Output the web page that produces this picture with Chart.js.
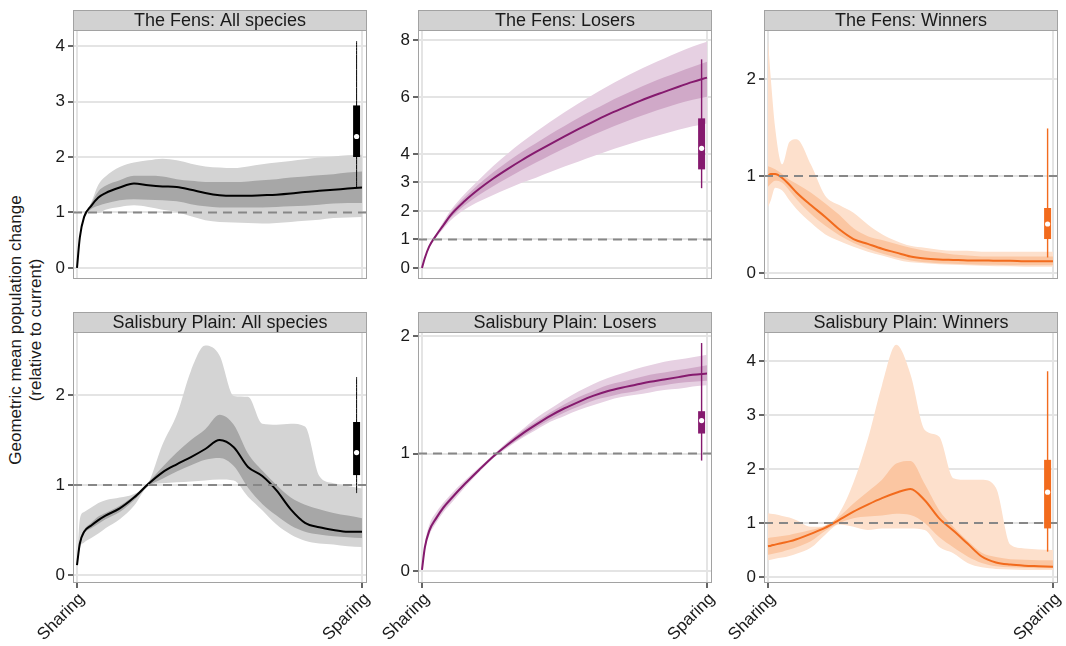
<!DOCTYPE html>
<html>
<head>
<meta charset="utf-8">
<script src="https://cdn.jsdelivr.net/npm/chart.js@4.4.1/dist/chart.umd.min.js"></script>
<style>
  body { margin: 0; background: #fff; }
  #wrap { position: relative; width: 1066px; height: 646px; overflow: hidden; }
  canvas { position: absolute; }
  #ytitle {
    position: absolute; left: -131px; top: 307px; width: 320px; height: 46px;
    line-height: 23px; text-align: center; transform: rotate(-90deg);
    font: 17px "Liberation Sans", Arial, sans-serif; color: #1a1a1a;
  }
</style>
</head>
<body>
<div id="wrap">
  <div id="ytitle">Geometric mean population change<br>(relative to current)</div>
  <canvas id="c0" width="343" height="273" style="left:28px;top:10px"></canvas>
  <canvas id="c1" width="343" height="273" style="left:373px;top:10px"></canvas>
  <canvas id="c2" width="343" height="273" style="left:719px;top:10px"></canvas>
  <canvas id="c3" width="343" height="334" style="left:28px;top:312px"></canvas>
  <canvas id="c4" width="343" height="334" style="left:373px;top:312px"></canvas>
  <canvas id="c5" width="343" height="334" style="left:719px;top:312px"></canvas>
</div>
<script>
// Population change along the sharing -> sparing gradient

// position along the gradient (0 = sharing, 1 = sparing)
const xs = [0, 0.01, 0.025, 0.05, 0.075, 0.1, 0.15, 0.2, 0.25, 0.3, 0.35, 0.4,
  0.45, 0.5, 0.55, 0.6, 0.65, 0.7, 0.75, 0.8, 0.85, 0.9, 0.95, 1.0];
const xTicks = [0, 1];
const xLabels = ["Sharing", "Sparing"];
const boxX = 0.981;

// The Fens: All species
const fensAllMean = [0, 0.55, 0.92, 1.12, 1.27, 1.35, 1.45, 1.52, 1.49, 1.47, 1.46, 1.41, 1.35, 1.31, 1.3, 1.3, 1.31, 1.32, 1.34, 1.37, 1.39, 1.41, 1.43, 1.45];
const fensAllHi95 = [0, 0.55, 0.92, 1.18, 1.5, 1.65, 1.82, 1.9, 1.94, 1.97, 1.94, 1.88, 1.83, 1.81, 1.8, 1.83, 1.87, 1.9, 1.93, 1.96, 1.99, 2.01, 2.03, 2.04];
const fensAllLo95 = [0, 0.55, 0.9, 1.0, 0.99, 1.05, 1.1, 1.13, 1.1, 1.05, 1.01, 0.93, 0.86, 0.83, 0.82, 0.81, 0.8, 0.81, 0.83, 0.85, 0.87, 0.9, 0.91, 0.92];
const fensAllHi50 = [0, 0.55, 0.92, 1.16, 1.38, 1.48, 1.58, 1.66, 1.66, 1.65, 1.6, 1.57, 1.55, 1.55, 1.55, 1.56, 1.58, 1.6, 1.63, 1.65, 1.67, 1.69, 1.72, 1.74];
const fensAllLo50 = [0, 0.55, 0.9, 1.06, 1.12, 1.16, 1.22, 1.24, 1.23, 1.22, 1.2, 1.15, 1.11, 1.09, 1.09, 1.09, 1.09, 1.1, 1.11, 1.12, 1.14, 1.16, 1.17, 1.17];
const fensAllBox = [1.45, 2.0, 2.37, 2.93, 4.09]; // low whisker, q1, median, q3, high whisker

// The Fens: Losers
const fensLosMean = [0, 0.35, 0.75, 1.15, 1.5, 1.85, 2.35, 2.77, 3.14, 3.47, 3.78, 4.07, 4.35, 4.62, 4.88, 5.13, 5.37, 5.59, 5.8, 6.0, 6.18, 6.36, 6.53, 6.68];
const fensLosHi95 = [0, 0.36, 0.78, 1.22, 1.62, 2.02, 2.6, 3.1, 3.58, 4.01, 4.41, 4.78, 5.13, 5.46, 5.78, 6.08, 6.37, 6.64, 6.89, 7.13, 7.35, 7.57, 7.77, 7.94];
const fensLosLo95 = [0, 0.34, 0.72, 1.08, 1.38, 1.67, 2.05, 2.33, 2.56, 2.78, 2.99, 3.17, 3.37, 3.56, 3.74, 3.92, 4.1, 4.26, 4.42, 4.57, 4.71, 4.85, 4.97, 5.07];
const fensLosHi50 = [0, 0.35, 0.76, 1.19, 1.56, 1.94, 2.48, 2.95, 3.36, 3.73, 4.07, 4.38, 4.69, 4.98, 5.27, 5.54, 5.8, 6.04, 6.27, 6.49, 6.69, 6.88, 7.06, 7.24];
const fensLosLo50 = [0, 0.35, 0.74, 1.11, 1.43, 1.75, 2.2, 2.56, 2.87, 3.16, 3.44, 3.7, 3.96, 4.2, 4.44, 4.67, 4.88, 5.08, 5.27, 5.45, 5.61, 5.77, 5.9, 6.01];
const fensLosBox = [2.8, 3.46, 4.2, 5.25, 7.32];

// The Fens: Winners
const fensWinMean = [1.0, 1.02, 1.02, 0.98, 0.91, 0.83, 0.7, 0.58, 0.45, 0.35, 0.3, 0.25, 0.21, 0.17, 0.15, 0.14, 0.135, 0.13, 0.13, 0.125, 0.125, 0.12, 0.12, 0.12];
const fensWinHi95 = [2.4, 2.0, 1.5, 1.12, 1.35, 1.38, 1.12, 0.8, 0.7, 0.62, 0.5, 0.4, 0.33, 0.28, 0.26, 0.24, 0.23, 0.23, 0.22, 0.22, 0.22, 0.22, 0.22, 0.22];
const fensWinLo95 = [0.68, 0.75, 0.88, 0.85, 0.75, 0.66, 0.52, 0.4, 0.33, 0.27, 0.22, 0.18, 0.14, 0.11, 0.1, 0.09, 0.085, 0.08, 0.075, 0.07, 0.07, 0.065, 0.065, 0.065];
const fensWinHi50 = [1.1, 1.09, 1.07, 1.02, 0.96, 0.92, 0.83, 0.72, 0.6, 0.46, 0.38, 0.34, 0.3, 0.26, 0.23, 0.21, 0.19, 0.18, 0.17, 0.17, 0.17, 0.17, 0.17, 0.17];
const fensWinLo50 = [0.89, 0.92, 0.95, 0.93, 0.85, 0.76, 0.61, 0.49, 0.39, 0.31, 0.25, 0.2, 0.16, 0.13, 0.11, 0.1, 0.095, 0.09, 0.085, 0.085, 0.08, 0.08, 0.08, 0.08];
const fensWinBox = [0.16, 0.35, 0.505, 0.67, 1.49];

// Salisbury Plain: All species
const salAllMean = [0.11, 0.35, 0.48, 0.55, 0.61, 0.66, 0.74, 0.86, 1.01, 1.14, 1.23, 1.31, 1.4, 1.5, 1.42, 1.2, 1.1, 0.94, 0.73, 0.58, 0.53, 0.5, 0.48, 0.48];
const salAllHi95 = [0.11, 0.62, 0.7, 0.75, 0.8, 0.83, 0.86, 0.9, 1.02, 1.45, 1.78, 2.27, 2.55, 2.44, 1.99, 1.98, 1.68, 1.67, 1.68, 1.65, 1.1, 1.02, 0.99, 0.96];
const salAllLo95 = [0.11, 0.3, 0.36, 0.41, 0.46, 0.52, 0.62, 0.77, 0.99, 1.02, 1.03, 1.04, 1.05, 1.06, 1.05, 0.87, 0.72, 0.56, 0.45, 0.38, 0.35, 0.34, 0.32, 0.31];
const salAllHi50 = [0.11, 0.38, 0.5, 0.58, 0.65, 0.69, 0.77, 0.88, 1.03, 1.2, 1.36, 1.5, 1.62, 1.78, 1.67, 1.35, 1.16, 1.0, 0.86, 0.78, 0.73, 0.69, 0.66, 0.63];
const salAllLo50 = [0.11, 0.33, 0.46, 0.52, 0.57, 0.62, 0.7, 0.83, 0.99, 1.07, 1.15, 1.22, 1.28, 1.3, 1.21, 0.97, 0.79, 0.66, 0.55, 0.48, 0.45, 0.43, 0.42, 0.41];
const salAllBox = [0.91, 1.11, 1.36, 1.7, 2.2];

// Salisbury Plain: Losers
const salLosMean = [0.01, 0.2, 0.34, 0.45, 0.54, 0.61, 0.74, 0.86, 0.975, 1.075, 1.165, 1.245, 1.32, 1.385, 1.44, 1.49, 1.53, 1.56, 1.585, 1.61, 1.63, 1.65, 1.67, 1.68];
const salLosHi95 = [0.01, 0.23, 0.39, 0.5, 0.58, 0.65, 0.77, 0.88, 0.99, 1.1, 1.2, 1.3, 1.38, 1.46, 1.53, 1.59, 1.64, 1.68, 1.72, 1.75, 1.78, 1.8, 1.82, 1.84];
const salLosLo95 = [0.01, 0.17, 0.3, 0.41, 0.5, 0.57, 0.71, 0.84, 0.96, 1.05, 1.13, 1.2, 1.27, 1.32, 1.37, 1.41, 1.45, 1.48, 1.5, 1.52, 1.54, 1.55, 1.57, 1.58];
const salLosHi50 = [0.01, 0.21, 0.36, 0.47, 0.56, 0.63, 0.75, 0.87, 0.98, 1.09, 1.19, 1.27, 1.35, 1.42, 1.48, 1.53, 1.58, 1.61, 1.64, 1.67, 1.69, 1.71, 1.73, 1.75];
const salLosLo50 = [0.01, 0.19, 0.32, 0.43, 0.52, 0.59, 0.73, 0.85, 0.97, 1.06, 1.14, 1.22, 1.29, 1.35, 1.4, 1.45, 1.48, 1.51, 1.53, 1.56, 1.58, 1.6, 1.61, 1.62];
const salLosBox = [0.94, 1.17, 1.28, 1.36, 1.94];

// Salisbury Plain: Winners
const salWinMean = [0.57, 0.58, 0.6, 0.63, 0.66, 0.7, 0.8, 0.91, 1.06, 1.21, 1.34, 1.46, 1.56, 1.63, 1.42, 1.09, 0.86, 0.62, 0.38, 0.27, 0.23, 0.21, 0.2, 0.19];
const salWinHi95 = [1.18, 1.17, 1.16, 1.13, 1.1, 1.05, 0.93, 0.93, 1.18, 1.75, 2.55, 3.55, 4.3, 3.75, 2.72, 2.6, 1.83, 1.8, 1.8, 1.65, 0.6, 0.53, 0.51, 0.5];
const salWinLo95 = [0.31, 0.32, 0.34, 0.36, 0.39, 0.43, 0.54, 0.78, 0.97, 0.93, 0.87, 0.9, 0.9, 0.9, 0.87, 0.56, 0.44, 0.26, 0.18, 0.15, 0.14, 0.13, 0.13, 0.13];
const salWinHi50 = [0.72, 0.73, 0.74, 0.76, 0.78, 0.81, 0.87, 0.95, 1.12, 1.36, 1.58, 1.8, 2.1, 2.15, 1.72, 1.24, 0.93, 0.67, 0.45, 0.37, 0.33, 0.32, 0.31, 0.31];
const salWinLo50 = [0.41, 0.42, 0.44, 0.47, 0.51, 0.55, 0.66, 0.85, 1.0, 1.09, 1.12, 1.14, 1.17, 1.15, 1.0, 0.74, 0.55, 0.38, 0.26, 0.2, 0.18, 0.17, 0.16, 0.16];
const salWinBox = [0.47, 0.9, 1.57, 2.17, 3.81];

const FONT = '"Liberation Sans", Arial, Helvetica, sans-serif';
const HEAD = 20;
const xMin = -0.014, xMax = 1.0175;

const themes = {
  grey: { line: "#000000", c95: "#d4d4d4", c50: "#a7a7a7", box: "#000000", whisker: 1 },
  purple: { line: "#851a6e", c95: "#e6d0e2", c50: "#d0a9c8", box: "#851a6e", whisker: 1.4 },
  orange: { line: "#f26b1d", c95: "#fde0cc", c50: "#fbc6a2", box: "#f26b1d", whisker: 1.4 },
};

const panels = [
  { id: "c0", title: "The Fens: All species", mean: fensAllMean, hi95: fensAllHi95, lo95: fensAllLo95, hi50: fensAllHi50, lo50: fensAllLo50, box: fensAllBox, theme: "grey", yMin: -0.2, yMax: 4.29, yTicks: [0, 1, 2, 3, 4], row: 0 },
  { id: "c1", title: "The Fens: Losers", mean: fensLosMean, hi95: fensLosHi95, lo95: fensLosLo95, hi50: fensLosHi50, lo50: fensLosLo50, box: fensLosBox, theme: "purple", yMin: -0.386, yMax: 8.35, yTicks: [0, 1, 2, 3, 4, 6, 8], row: 0 },
  { id: "c2", title: "The Fens: Winners", mean: fensWinMean, hi95: fensWinHi95, lo95: fensWinLo95, hi50: fensWinHi50, lo50: fensWinLo50, box: fensWinBox, theme: "orange", yMin: -0.062, yMax: 2.505, yTicks: [0, 1, 2], row: 0 },
  { id: "c3", title: "Salisbury Plain: All species", mean: salAllMean, hi95: salAllHi95, lo95: salAllLo95, hi50: salAllHi50, lo50: salAllLo50, box: salAllBox, theme: "grey", yMin: -0.089, yMax: 2.7, yTicks: [0, 1, 2], row: 1 },
  { id: "c4", title: "Salisbury Plain: Losers", mean: salLosMean, hi95: salLosHi95, lo95: salLosLo95, hi50: salLosHi50, lo50: salLosLo50, box: salLosBox, theme: "purple", yMin: -0.102, yMax: 2.034, yTicks: [0, 1, 2], row: 1 },
  { id: "c5", title: "Salisbury Plain: Winners", mean: salWinMean, hi95: salWinHi95, lo95: salWinLo95, hi50: salWinHi50, lo50: salWinLo50, box: salWinBox, theme: "orange", yMin: -0.111, yMax: 4.537, yTicks: [0, 1, 2, 3, 4], row: 1 },
];

// grey title strip above each panel plus the frame round it
const stripPlugin = {
  id: "strip",
  beforeDraw(chart, args, opts) {
    const { ctx, chartArea: a } = chart;
    ctx.save();
    ctx.fillStyle = "#d2d2d2";
    ctx.fillRect(a.left, a.top - HEAD, a.right - a.left, HEAD);
    ctx.fillStyle = "#1a1a1a";
    ctx.font = "18px " + FONT;
    ctx.textAlign = "center";
    ctx.textBaseline = "middle";
    ctx.fillText(opts.text, (a.left + a.right) / 2, a.top - HEAD / 2 + 1);
    ctx.restore();
  },
  afterDraw(chart) {
    const { ctx, chartArea: a } = chart;
    ctx.save();
    ctx.strokeStyle = "#a2a2a2";
    ctx.lineWidth = 1;
    ctx.strokeRect(a.left + 0.5, a.top - HEAD + 0.5, a.right - a.left - 1, a.bottom - a.top + HEAD - 1);
    ctx.beginPath();
    ctx.moveTo(a.left, a.top + 0.5);
    ctx.lineTo(a.right, a.top + 0.5);
    ctx.stroke();
    ctx.restore();
  },
};

const pts = (arr) => xs.map((x, i) => ({ x: x, y: arr[i] }));

function buildDatasets(p) {
  const t = themes[p.theme];
  const band = { borderWidth: 0, pointRadius: 0 };
  return [
    { ...band, data: pts(p.hi95), fill: false, order: 6 },
    { ...band, data: pts(p.lo95), fill: "-1", backgroundColor: t.c95, order: 6 },
    { ...band, data: pts(p.hi50), fill: false, order: 5 },
    { ...band, data: pts(p.lo50), fill: "-1", backgroundColor: t.c50, order: 5 },
    { data: pts(p.mean), borderColor: t.line, borderWidth: 2, pointRadius: 0, fill: false, order: 4 },
    { data: [{ x: xMin, y: 1 }, { x: xMax, y: 1 }], borderColor: "#878787", borderWidth: 2,
      borderDash: [9, 6], pointRadius: 0, fill: false, order: 3 },
    { data: [{ x: boxX, y: p.box[0] }, { x: boxX, y: p.box[4] }], borderColor: t.box,
      borderWidth: t.whisker, pointRadius: 0, fill: false, order: 2 },
    { data: [{ x: boxX, y: p.box[1] }, { x: boxX, y: p.box[3] }], borderColor: t.box,
      borderWidth: 7, borderCapStyle: "butt", pointRadius: 0, fill: false, order: 1 },
    { data: [{ x: boxX, y: p.box[2] }], showLine: false, pointRadius: 2.6,
      pointBackgroundColor: "#ffffff", pointBorderWidth: 0, order: 0 },
  ];
}

panels.forEach((p) => {
  const bottomRow = p.row === 1;
  new Chart(document.getElementById(p.id), {
    type: "line",
    data: { datasets: buildDatasets(p) },
    options: {
      responsive: false,
      animation: false,
      layout: { padding: { top: HEAD, right: 3, left: 0, bottom: 0 } },
      elements: { line: { cubicInterpolationMode: "monotone" } },
      plugins: {
        legend: { display: false },
        tooltip: { enabled: false },
        strip: { text: p.title },
      },
      scales: {
        x: {
          type: "linear",
          min: xMin,
          max: xMax,
          offset: false,
          border: { display: false },
          grid: { color: "#e4e4e4", lineWidth: 2, tickColor: "#666", tickLength: 5, drawTicks: bottomRow },
          ticks: {
            display: bottomRow,
            autoSkip: false,
            minRotation: 45,
            maxRotation: 45,
            padding: 1,
            labelOffset: 5,
            color: "#1a1a1a",
            font: { size: 17, family: FONT },
            callback: (v) => xLabels[xTicks.indexOf(v)],
          },
          afterBuildTicks: (s) => { s.ticks = xTicks.map((v) => ({ value: v })); },
          afterFit: (s) => {
            s.height = bottomRow ? 63 : 4;
            s.paddingLeft = 0;
            s.paddingRight = 0;
          },
        },
        y: {
          min: p.yMin,
          max: p.yMax,
          border: { display: false },
          grid: { color: "#e4e4e4", lineWidth: 2, tickColor: "#666", tickLength: 5 },
          ticks: { padding: 3, color: "#1a1a1a", font: { size: 17, family: FONT } },
          afterBuildTicks: (s) => { s.ticks = p.yTicks.map((v) => ({ value: v })); },
          afterFit: (s) => {
            s.width = 45;
            s.paddingTop = 0;
            s.paddingBottom = 0;
          },
        },
      },
    },
    plugins: [stripPlugin],
  });
});
</script>
</body>
</html>
